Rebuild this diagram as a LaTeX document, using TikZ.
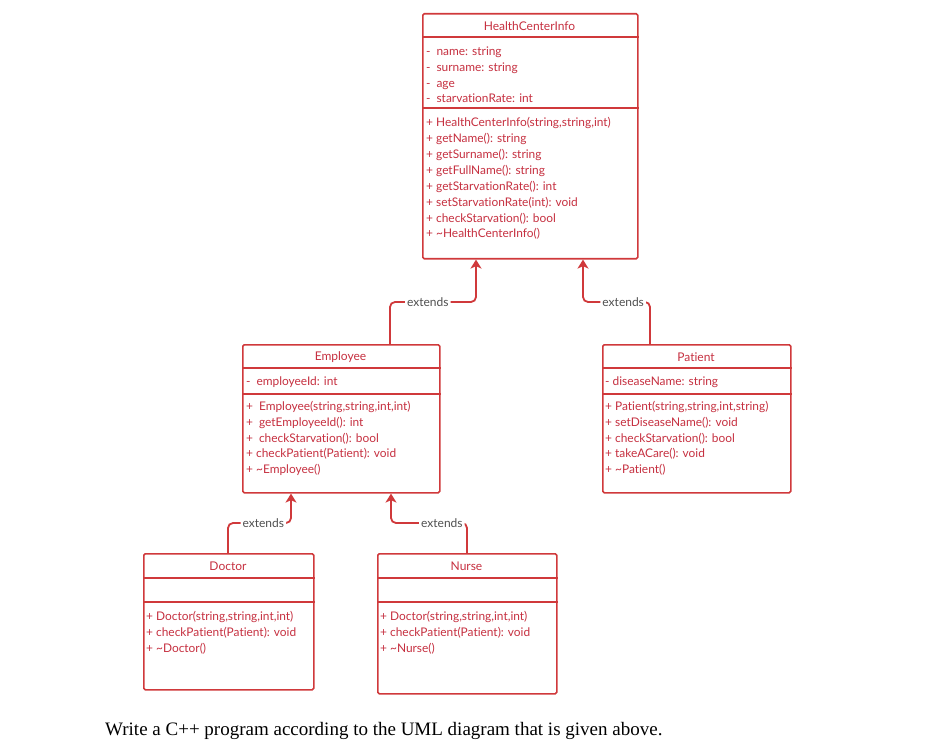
\documentclass[tikz,border=0pt]{standalone}
\usepackage{fontspec}
\setmainfont[Ligatures=NoCommon]{Lato}
\newfontfamily\capfont{Liberation Serif}
\usetikzlibrary{arrows.meta}
\definecolor{umlred}{HTML}{D0393B}
\definecolor{umltext}{HTML}{C63040}
\definecolor{extgrey}{HTML}{505050}
\begin{document}
\begin{tikzpicture}[x=1pt,y=-1pt,
  box/.style={draw=umlred, line width=1.6pt, rounded corners=1.5pt, anchor=north west, inner sep=0pt},
  sep/.style={draw=umlred, line width=1.6pt},
  title/.style={text=umltext, font=\fontsize{12}{14}\selectfont, inner sep=0pt},
  comp/.style={text=umltext, font=\fontsize{11.9}{15.85}\selectfont, align=left, anchor=north west, inner sep=0pt},
  ext/.style={text=extgrey, fill=white, font=\fontsize{12}{14}\selectfont, inner sep=2pt},
  inh/.style={draw=umlred, line width=1.8pt, rounded corners=5pt, -{Stealth[length=9pt,width=11pt,inset=2.5pt]}}]
\useasboundingbox[fill=white] (0,0) rectangle (948,754);

% HealthCenterInfo
\node[box, minimum width=215pt, minimum height=245pt] (hci) at (422,13) {};
\draw[sep] (hci.west |- 0,37) -- (hci.east |- 0,37);
\draw[sep] (hci.west |- 0,108) -- (hci.east |- 0,108);
\node[title] (hcit) at (529.5,26) {HealthCenterInfo};
\node[comp] (hcia) at (426,46.5) {-\enspace name: string\\-\enspace surname: string\\-\enspace age\\-\enspace starvationRate: int};
\node[comp] (hcim) at (426,117.5) {+ HealthCenterInfo(string,string,int)\\+ getName(): string\\+ getSurname(): string\\+ getFullName(): string\\+ getStarvationRate(): int\\+ setStarvationRate(int): void\\+ checkStarvation(): bool\\+ \textasciitilde HealthCenterInfo()};

% Employee
\node[box, minimum width=197pt, minimum height=148pt] (emp) at (242,344) {};
\draw[sep] (emp.west |- 0,368) -- (emp.east |- 0,368);
\draw[sep] (emp.west |- 0,394) -- (emp.east |- 0,394);
\node[title] (empt) at (340.5,357) {Employee};
\node[comp] (empa) at (246,377) {-\enspace employeeId: int};
\node[comp] (empm) at (246,401) {+\enspace Employee(string,string,int,int)\\+\enspace getEmployeeId(): int\\+\enspace checkStarvation(): bool\\+ checkPatient(Patient): void\\+ \textasciitilde Employee()};

% Patient
\node[box, minimum width=188pt, minimum height=148pt] (pat) at (602,344) {};
\draw[sep] (pat.west |- 0,368) -- (pat.east |- 0,368);
\draw[sep] (pat.west |- 0,394) -- (pat.east |- 0,394);
\node[title] (patt) at (696,357) {Patient};
\node[comp] (pata) at (605,377) {- diseaseName: string};
\node[comp] (patm) at (605,401) {+ Patient(string,string,int,string)\\+ setDiseaseName(): void\\+ checkStarvation(): bool\\+ takeACare(): void\\+ \textasciitilde Patient()};

% Doctor
\node[box, minimum width=170pt, minimum height=136pt] (doc) at (143,553) {};
\draw[sep] (doc.west |- 0,578) -- (doc.east |- 0,578);
\draw[sep] (doc.west |- 0,602) -- (doc.east |- 0,602);
\node[title] (doct) at (228,566.5) {Doctor};
\node[comp] (docm) at (146,611) {+ Doctor(string,string,int,int)\\+ checkPatient(Patient): void\\+ \textasciitilde Doctor()};

% Nurse
\node[box, minimum width=179pt, minimum height=140pt] (nur) at (377,553) {};
\draw[sep] (nur.west |- 0,578) -- (nur.east |- 0,578);
\draw[sep] (nur.west |- 0,602) -- (nur.east |- 0,602);
\node[title] (nurt) at (466.5,566.5) {Nurse};
\node[comp] (nurm) at (380,611) {+ Doctor(string,string,int,int)\\+ checkPatient(Patient): void\\+ \textasciitilde Nurse()};

% Inheritance connectors
\draw[inh] (emp.north -| 390,0) -- (390,302) -- node[ext,pos=0.44] (l1) {extends} (476,302) -- (hci.south -| 476,0);
\draw[inh] (pat.north -| 650,0) -- (650,302) -- node[ext,pos=0.4] (l2) {extends} (583,302) -- (hci.south -| 583,0);
\draw[inh] (doc.north -| 228,0) -- (228,523) -- node[ext,pos=0.56] (l3) {extends} (291,523) -- (emp.south -| 291,0);
\draw[inh] (nur.north -| 467,0) -- (467,523) -- node[ext,pos=0.33] (l4) {extends} (391,523) -- (emp.south -| 391,0);

% Caption
\node[anchor=base west, inner sep=0pt, font=\capfont\fontsize{19}{22}\selectfont] (cap) at (105,735) {Write a C++ program according to the UML diagram that is given above.};
\end{tikzpicture}
\end{document}
